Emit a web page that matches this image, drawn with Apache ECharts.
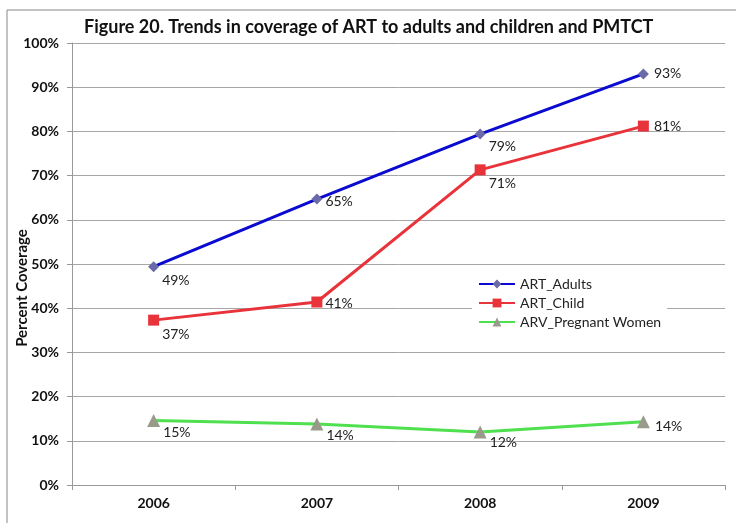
<!DOCTYPE html>
<html>
<head>
    <meta charset="utf-8">
    <title>ECharts</title>
    <script src="https://cdn.jsdelivr.net/npm/echarts@6/dist/echarts.min.js"></script>
    <style>body{margin:0;background:#fff;}</style>
</head>
<body>
    <div id="main" style="width: 736px;height:523px;"></div>
    <script type="text/javascript">

var years = ['2006', '2007', '2008', '2009'];
var artAdults = [49.4, 64.7, 79.4, 93.0];
var artChild = [37.3, 41.4, 71.3, 81.2];
var arvPregnant = [14.6, 13.8, 12.0, 14.3];

var myChart = echarts.init(document.getElementById('main'));
var font = 'Lato';

// label offsets per point, from the picture
function labelFor(i, dy) {
    return {
        show: true,
        position: 'right',
        offset: [i === 3 ? 0 : -2, dy[i]],
        formatter: function (p) { return Math.round(p.value) + '%'; },
        color: '#222',
        fontSize: 14,
        fontFamily: font
    };
}

function buildData(values, dy) {
    return values.map(function (v, i) {
        return { value: v, label: labelFor(i, dy) };
    });
}

var option = {
    animation: false,
    title: {
        text: 'Figure 20. Trends in coverage of ART to adults and children and PMTCT',
        left: 79,
        top: 13,
        textStyle: { fontFamily: font, fontSize: 18, fontWeight: 'bold', color: '#111' }
    },
    graphic: [{
        type: 'rect',
        shape: { x: 7, y: 10, width: 760, height: 540 },
        style: { fill: null, stroke: '#888', lineWidth: 1 },
        z: -1
    }],
    legend: {
        orient: 'vertical',
        left: 472,
        top: 273,
        itemWidth: 36,
        itemHeight: 11,
        itemGap: 5,
        backgroundColor: '#fff',
        padding: [4, 6],
        textStyle: { fontFamily: font, fontSize: 14, color: '#222' },
        data: ['ART_Adults', 'ART_Child', 'ARV_Pregnant Women']
    },
    grid: { left: 72, right: 11, top: 43, bottom: 38, outerBoundsMode: 'none' },
    xAxis: {
        type: 'category',
        data: years,
        boundaryGap: true,
        axisLine: { lineStyle: { color: '#999' } },
        axisTick: { show: true, length: 5, lineStyle: { color: '#999' } },
        axisLabel: { fontFamily: font, fontWeight: 'bold', fontSize: 14, color: '#111', margin: 11 }
    },
    yAxis: {
        type: 'value',
        min: 0,
        max: 100,
        interval: 10,
        name: 'Percent Coverage',
        nameLocation: 'middle',
        nameGap: 42,
        nameMoveOverlap: false,
        nameTextStyle: {
            fontFamily: font, fontWeight: 'bold', fontSize: 15, color: '#111',
            padding: [0, 48, 0, 0]
        },
        axisLine: { show: true, lineStyle: { color: '#999' } },
        axisTick: { show: true, length: 5, lineStyle: { color: '#999' } },
        splitLine: { lineStyle: { color: '#a6a6a6' } },
        axisLabel: {
            fontFamily: font, fontWeight: 'bold', fontSize: 14, color: '#111', margin: 13,
            formatter: '{value}%'
        }
    },
    series: [
        {
            name: 'ART_Adults',
            type: 'line',
            data: buildData(artAdults, [14, 2, 12, 0]),
            symbol: 'diamond',
            symbolSize: 11,
            lineStyle: { color: '#0a0ad0', width: 3 },
            itemStyle: { color: '#6a6aa8' }
        },
        {
            name: 'ART_Child',
            type: 'line',
            data: buildData(artChild, [14, 1, 14, 0]),
            symbol: 'rect',
            symbolSize: 11,
            lineStyle: { color: '#e8333a', width: 3 },
            itemStyle: { color: '#e8333a' }
        },
        {
            name: 'ARV_Pregnant Women',
            type: 'line',
            data: buildData(arvPregnant, [12, 11, 11, 5]),
            symbol: 'triangle',
            symbolSize: 13,
            lineStyle: { color: '#4ee04e', width: 3 },
            itemStyle: { color: '#9a9a8a' }
        }
    ]
};

myChart.setOption(option);
    </script>
</body>
</html>
